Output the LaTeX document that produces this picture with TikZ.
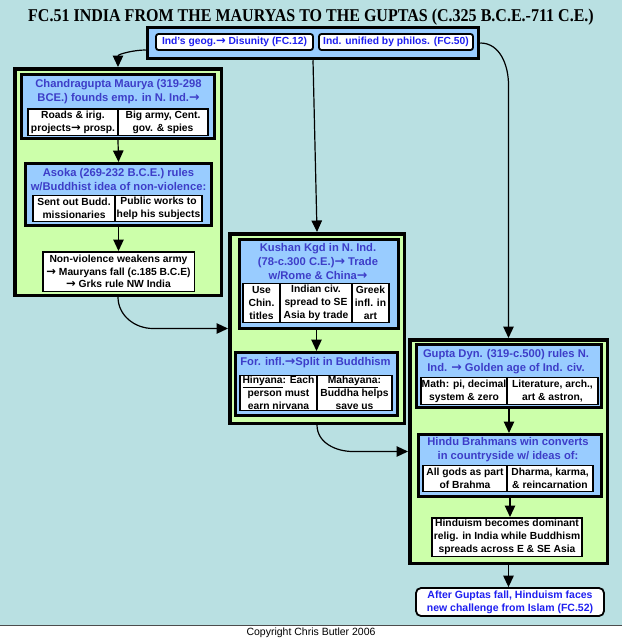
\documentclass[tikz,border=0pt]{standalone}
\usepackage{fontspec}
\setmainfont{Liberation Sans}
\newfontfamily\titlefont{Liberation Serif}
\newfontfamily\arrowfont{DejaVu Sans}
\usetikzlibrary{arrows.meta}
\definecolor{bgteal}{HTML}{B9E0E2}
\definecolor{zonegreen}{HTML}{CCFFAA}
\definecolor{headblue}{HTML}{99CCFF}
\definecolor{headtext}{HTML}{3D3DC8}
\definecolor{linktext}{HTML}{1F1FF0}
\newcommand{\ra}{{\arrowfont\scalebox{1.12}{→}}}

\begin{document}
\begin{tikzpicture}[
	x=1pt, y=-1pt,
	zone/.style={draw,fill=zonegreen,line width=3.5pt,inner sep=0pt},
	headbox/.style={draw,fill=headblue,line width=3pt,inner sep=0pt},
	cell/.style={draw,fill=white,line width=1.5pt,inner sep=0pt,align=center,font=\bfseries\fontsize{10.3}{12.8}\selectfont},
	headtxt/.style={inner sep=0pt,align=center,text=headtext,font=\bfseries\fontsize{11.2}{14}\selectfont},
	linkbox/.style={draw,fill=white,line width=1.8pt,rounded corners=2.5pt,inner sep=0pt,align=center,text=linktext,font=\bfseries\fontsize{10.3}{12.5}\selectfont},
	arr/.style={-{Triangle[width=10.5pt,length=11.5pt]},line width=1.2pt}
	]
		\useasboundingbox (0,0) rectangle (622,640);
		\fill[white] (0,0) rectangle (622,640);
		\fill[bgteal] (0,0) rectangle (622,625);
		\draw[black!70,line width=1pt] (0,625) -- (622,625);
		\path (311,633) node[font=\fontsize{10.5}{12}\selectfont] (copyright) {Copyright Chris Butler 2006};
		\path (311,21) node[anchor=base,inner sep=0pt,font=\titlefont\bfseries\fontsize{18}{18}\selectfont] (title) {\scalebox{0.89}[1]{FC.51 INDIA FROM THE MAURYAS TO THE GUPTAS (C.325 B.C.E.-711 C.E.)}};
		
		\path (313,43) node[headbox,line width=3.5pt,minimum width=331pt,minimum height=31pt] (src) {};
		\path (234.5,42) node[linkbox,minimum width=157pt,minimum height=16pt] (geog) {Ind's geog.\ra\ Disunity (FC.12)};
		\path (396,42) node[linkbox,minimum width=154pt,minimum height=16pt] (philos) {Ind. unified by philos. (FC.50)};
		
		\path (118,182) node[zone,minimum width=206.5pt,minimum height=226.5pt] (maurya) {};
		\path (118,106.5) node[headbox,minimum width=193pt,minimum height=64pt] (chandra) {};
		\path (118.5,92) node[headtxt] (chandrahd) {Chandragupta Maurya (319-298\\BCE.) founds emp. in N. Ind.\ra};
		\path (73,122) node[cell,minimum width=90pt,minimum height=26.5pt] (roads) {Roads \& irig.\\projects\ra\ prosp.};
		\path (163,122) node[cell,minimum width=90pt,minimum height=26.5pt] (army) {Big army, Cent.\\gov. \& spies};
		\path (118.5,194.5) node[headbox,minimum width=186pt,minimum height=62pt] (asoka) {};
		\path (118.5,180) node[headtxt] (asokahd) {Asoka (269-232 B.C.E.) rules\\w/Buddhist idea of non-violence:};
		\path (74,208.5) node[cell,minimum width=82pt,minimum height=26pt] (budd) {Sent out Budd.\\missionaries};
		\path (158.5,208.5) node[cell,minimum width=87pt,minimum height=26pt] (works) {Public works to\\help his subjects};
		\path (118.5,271.5) node[cell,minimum width=151.5pt,minimum height=39.5pt] (fall) {Non-violence weakens army\\\ra\ Mauryans fall (c.185 B.C.E)\\\ra\ Grks rule NW India};
		
		\path (317,328.5) node[zone,minimum width=174.5pt,minimum height=189.5pt] (kushanzone) {};
		\path (319,284) node[headbox,minimum width=159pt,minimum height=89pt] (kushan) {};
		\path (318,262) node[headtxt] (kushanhd) {Kushan Kgd in N. Ind.\\(78-c.300 C.E.)\ra\ Trade\\w/Rome \& China\ra};
		\path (261.5,303) node[cell,minimum width=37pt,minimum height=39pt] (titles) {Use\\Chin.\\titles};
		\path (316,303) node[cell,minimum width=72pt,minimum height=39pt] (spread) {Indian civ.\\spread to SE\\Asia by trade};
		\path (370.5,303) node[cell,minimum width=37pt,minimum height=39pt] (greek) {Greek\\infl. in\\art};
		\path (316.5,384) node[headbox,minimum width=162pt,minimum height=63pt] (split) {};
		\path (315.5,363) node[headtxt] (splithd) {For. infl.\ra Split in Buddhism};
		\path (278.5,393) node[cell,minimum width=77pt,minimum height=35pt] (hinyana) {\underline{Hinyana}: Each\\person must\\earn nirvana};
		\path (354.5,393) node[cell,minimum width=75pt,minimum height=35pt] (mahayana) {\underline{Mahayana}:\\Buddha helps\\save us};
		
		\path (508.5,451.5) node[zone,minimum width=197.5pt,minimum height=223.5pt] (guptazone) {};
		\path (509,376) node[headbox,minimum width=185pt,minimum height=63pt] (gupta) {};
		\path (506,361.5) node[headtxt] (guptahd) {Gupta Dyn. (319-c.500) rules N.\\Ind. \ra\ Golden age of Ind. civ.};
		\path (464,391) node[cell,minimum width=86pt,minimum height=27pt] (math) {Math: pi, decimal\\system \& zero};
		\path (552.5,391) node[cell,minimum width=91pt,minimum height=27pt] (lit) {Literature, arch.,\\art \& astron,};
		\path (510,465.5) node[headbox,minimum width=183pt,minimum height=62pt] (brahmans) {};
		\path (508,450) node[headtxt] (brahmanshd) {Hindu Brahmans win converts\\in countryside w/ ideas of:};
		\path (465,478.5) node[cell,minimum width=84pt,minimum height=26pt] (gods) {All gods as part\\of Brahma};
		\path (550,478.5) node[cell,minimum width=86pt,minimum height=26pt] (dharma) {Dharma, karma,\\\& reincarnation};
		\path (507,537) node[cell,minimum width=150pt,minimum height=38.5pt] (dominant) {Hinduism becomes dominant\\relig. in India while Buddhism\\spreads across E \& SE Asia};
		
		\path (510,602) node[linkbox,rounded corners=5pt,minimum width=188pt,minimum height=28pt,font=\bfseries\fontsize{10.5}{13}\selectfont] (islam) {After Guptas fall, Hinduism faces\\new challenge from Islam (FC.52)};
		
		\draw[arr] ([yshift=-7pt]src.west) to[out=180,in=90] (maurya.north);
		\draw[arr] (src.south) -- (kushanzone.north);
		\draw[arr] (src.east) to[out=0,in=90] (guptazone.north |- 0,85) -- (guptazone.north);
		\draw[arr] (chandra.south) -- (asoka.north);
		\draw[arr] (asoka.south) -- (fall.north);
		\draw[arr] (maurya.south) to[out=-90,in=180] ([xshift=-75pt]kushanzone.west) -- (kushanzone.west);
		\draw[arr] (kushan.south -| split.north) -- (split.north);
		\draw[arr] (kushanzone.south) to[out=-90,in=180] ([xshift=-55pt]guptazone.west) -- (guptazone.west);
		\draw[arr] (gupta.south) -- (gupta.south |- brahmans.north);
		\draw[arr] (brahmans.south) -- (brahmans.south |- dominant.north);
		\draw[arr] (guptazone.south) -- (guptazone.south |- islam.north);
		
	\end{tikzpicture}
\end{document}
